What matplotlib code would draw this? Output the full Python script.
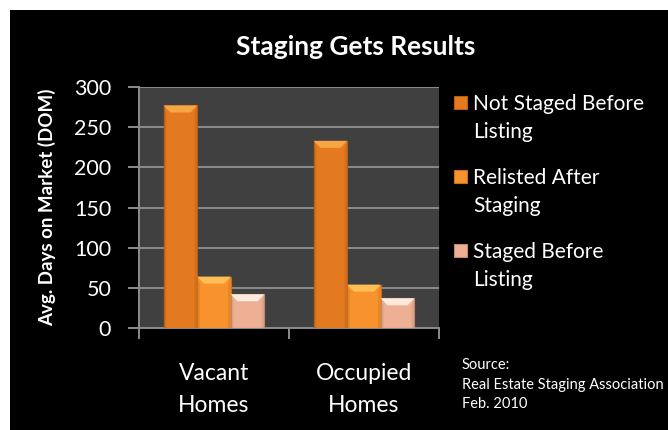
import matplotlib
matplotlib.use("Agg")
import matplotlib.pyplot as plt
from matplotlib.patches import Rectangle, Polygon
import numpy as np

plt.rcParams['font.family'] = ['Lato', 'DejaVu Sans']

categories = ["Vacant\nHomes", "Occupied\nHomes"]
series_names = ["Not Staged Before\nListing", "Relisted After\nStaging", "Staged Before\nListing"]
not_staged = [277, 233]
relisted = [64, 54]
staged = [42, 37]
yticks = [0, 50, 100, 150, 200, 250, 300]
source_lines = ["Source:", "Real Estate Staging Association", "Feb. 2010"]

# main, top bevel, side shade
colors = [("#E47A20", "#F7A646", "#B85E16"),
          ("#F8922C", "#FFBE55", "#C9701E"),
          ("#EDB094", "#FFEBDD", "#C08A70")]

fig = plt.figure(figsize=(6.68, 4.30), dpi=100, facecolor="white")
fig.patches.append(Rectangle((10/668, 0), 1, 1 - 10/430, transform=fig.transFigure,
                             facecolor="black", edgecolor="none", zorder=-10))

ax = fig.add_axes([139/668, 1 - 328/430, 300/668, 241/430])
ax.set_facecolor("#404040")

x = np.arange(len(categories))
w = 0.224
all_series = [not_staged, relisted, staged]
for i, vals in enumerate(all_series):
    main, light, dark = colors[i]
    bars = ax.bar(x + (i - 1) * w, vals, w, color=main, edgecolor=dark, linewidth=0.8, zorder=3)
    # bevel effect from each bar's own geometry
    for b in bars:
        x0, bw, h = b.get_x(), b.get_width(), b.get_height()
        bx = bw * 0.2
        by = 300 / 241 * 7
        ax.add_patch(Polygon([(x0, h), (x0 + bw, h), (x0 + bw - bx, h - by), (x0 + bx, h - by)],
                             closed=True, facecolor=light, edgecolor="none", zorder=4))
        ax.add_patch(Polygon([(x0, 0), (x0 + bx * 0.4, 0), (x0 + bx * 0.4, h - by), (x0, h)],
                             closed=True, facecolor=dark, edgecolor="none", alpha=0.35, zorder=4))
        ax.add_patch(Polygon([(x0 + bw, 0), (x0 + bw - bx * 0.4, 0), (x0 + bw - bx * 0.4, h - by), (x0 + bw, h)],
                             closed=True, facecolor=dark, edgecolor="none", alpha=0.35, zorder=4))

ax.set_xlim(-0.5, len(categories) - 0.5)
ax.set_ylim(0, 300)
ax.set_yticks(yticks)
ax.yaxis.grid(True, color="#8C8C8C", linewidth=1.4, zorder=0)
ax.set_axisbelow(True)

ax.set_xticks(np.arange(len(categories) + 1) - 0.5)
ax.set_xticklabels([])
ax.set_xticks(x, minor=True)
ax.set_xticklabels(categories, minor=True)
ax.tick_params(axis="x", which="minor", length=0, pad=25, labelsize=16.5, labelcolor="white")
ax.tick_params(axis="x", which="major", length=8, width=1.4, color="#8C8C8C")
ax.tick_params(axis="y", length=8, width=1.4, color="#8C8C8C", pad=12, labelsize=15.5, labelcolor="white")
for lab in ax.get_xticklabels(minor=True):
    lab.set_linespacing(1.65)

for s in ["top", "right"]:
    ax.spines[s].set_visible(False)
for s in ["left", "bottom"]:
    ax.spines[s].set_color("#8C8C8C")
    ax.spines[s].set_linewidth(1.4)

ax.set_ylabel("Avg. Days on Market (DOM)", color="white", fontsize=13.5, fontweight="bold", labelpad=13)

fig.text(356/668, 1 - 47/430, "Staging Gets Results", color="white", fontsize=19,
         fontweight="bold", ha="center", va="center")

# legend
for i, name in enumerate(series_names):
    main, light, dark = colors[i]
    ty = 1 - (102 + i * 74) / 430
    fig.patches.append(Rectangle((454/668, ty - 7/430), 13/668, 13/430, transform=fig.transFigure,
                                 facecolor=main, edgecolor=dark, linewidth=0.8))
    fig.text(473/668, ty + 8/430, name, color="white", fontsize=15, ha="left", va="top",
             linespacing=1.5)

fig.text(462/668, 1 - 358/430, "\n".join(source_lines), color="white", fontsize=10.5,
         ha="left", va="top", linespacing=1.5)

fig.savefig("out.png", dpi=100, facecolor=fig.get_facecolor())
